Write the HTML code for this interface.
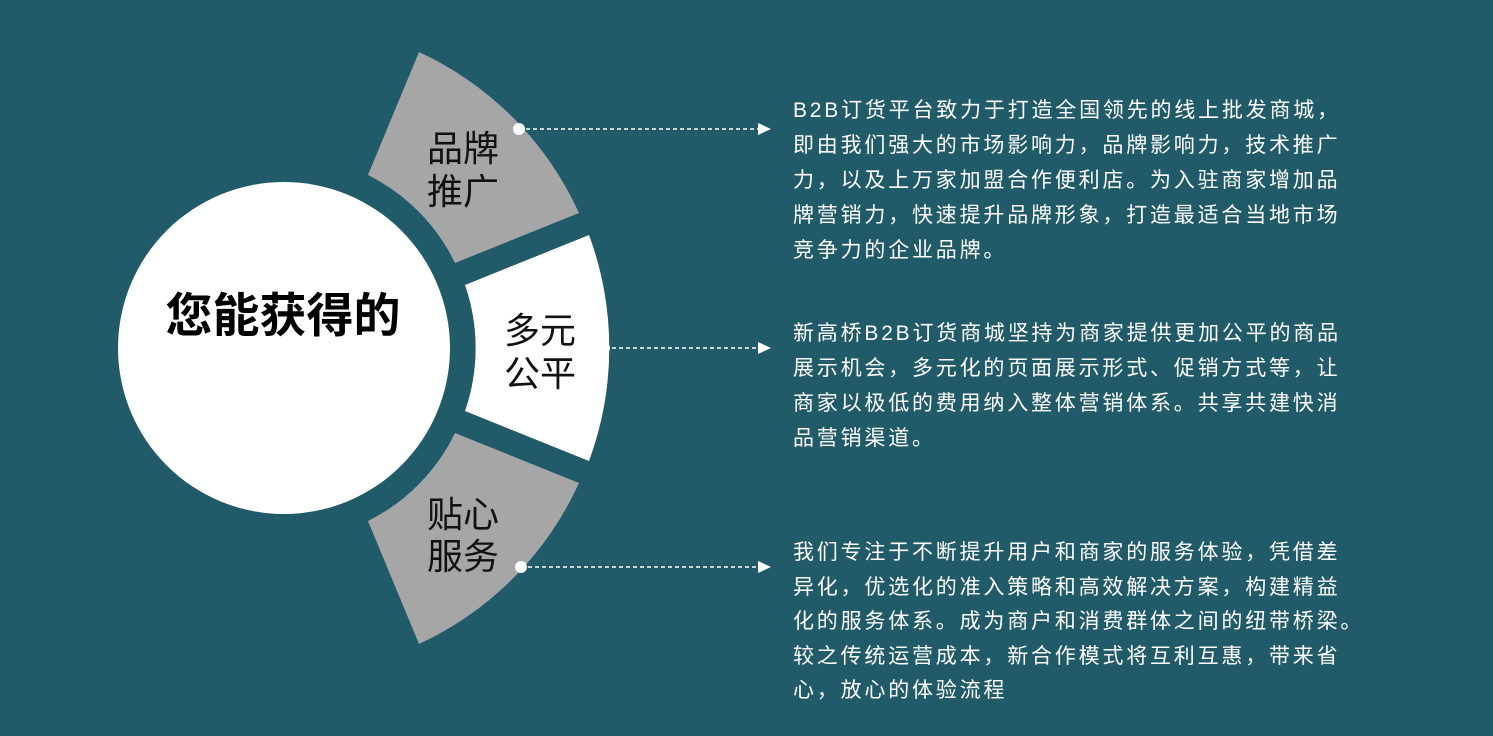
<!DOCTYPE html>
<html><head><meta charset="utf-8"><style>
body{margin:0;background:#215a68;width:1493px;height:736px;overflow:hidden;position:relative;font-family:"Liberation Sans","Noto Sans CJK SC",sans-serif}
.p{position:absolute;left:793px;width:640px;color:#fff;font-size:21px;letter-spacing:2.8px;line-height:35px;white-space:nowrap}
</style></head><body>
<svg width="1493" height="736" style="position:absolute;left:0;top:0">
<circle cx="284" cy="348" r="166" fill="#fff"/>
<path d="M419,52 A325,325 0 0 1 579,213 L455,263 A192,192 0 0 0 368,175 Z" fill="#a6a6a6"/>
<path d="M589,235 A325,325 0 0 1 589,461 L465,411 A192,192 0 0 0 465,285 Z" fill="#fff"/>
<path d="M419,644 A325,325 0 0 0 579,483 L455,433 A192,192 0 0 1 368,521 Z" fill="#a6a6a6"/>
<g stroke="#fff" stroke-width="1.5" stroke-dasharray="4,3">
<line x1="519" y1="129" x2="760" y2="129"/>
<line x1="605" y1="348" x2="760" y2="348"/>
<line x1="521" y1="567" x2="760" y2="567"/>
</g>
<g fill="#fff">
<circle cx="519" cy="129" r="6"/><circle cx="605" cy="348" r="5"/><circle cx="521" cy="567" r="6"/>
<path d="M758,123 L771,129 L758,135Z"/><path d="M758,342 L771,348 L758,354Z"/><path d="M758,561 L771,567 L758,573Z"/>
</g>
<g font-size="36" fill="#111" text-anchor="middle" font-family="Liberation Sans,Noto Sans CJK SC,sans-serif">
<text x="463" y="161">品牌</text><text x="463" y="204">推广</text>
<text x="540" y="343">多元</text><text x="540" y="386">公平</text>
<text x="463" y="527">贴心</text><text x="463" y="569">服务</text>
</g>
<text x="283" y="332" font-size="47" font-weight="bold" text-anchor="middle" fill="#000" font-family="Liberation Sans,Noto Sans CJK SC,sans-serif">您能获得的</text>
</svg>
<div class="p" style="top:93px">B2B订货平台致力于打造全国领先的线上批发商城，<br>即由我们强大的市场影响力，品牌影响力，技术推广<br>力，以及上万家加盟合作便利店。为入驻商家增加品<br>牌营销力，快速提升品牌形象，打造最适合当地市场<br>竞争力的企业品牌。</div>
<div class="p" style="top:316px">新高桥B2B订货商城坚持为商家提供更加公平的商品<br>展示机会，多元化的页面展示形式、促销方式等，让<br>商家以极低的费用纳入整体营销体系。共享共建快消<br>品营销渠道。</div>
<div class="p" style="top:536px;line-height:34.5px">我们专注于不断提升用户和商家的服务体验，凭借差<br>异化，优选化的准入策略和高效解决方案，构建精益<br>化的服务体系。成为商户和消费群体之间的纽带桥梁。<br>较之传统运营成本，新合作模式将互利互惠，带来省<br>心，放心的体验流程</div>
</body></html>
